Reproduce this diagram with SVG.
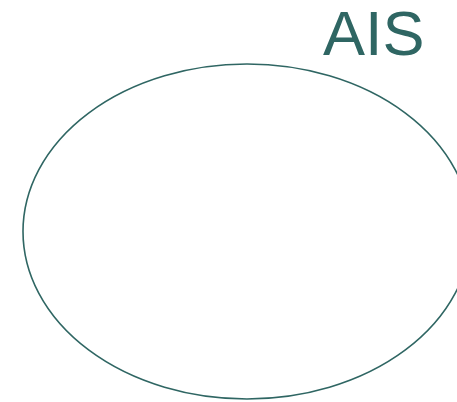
<svg xmlns="http://www.w3.org/2000/svg" width="457" height="402" viewBox="0 0 457 402">
<style>
.n{fill:none;stroke:#2f6663;stroke-width:1.6}
.t{font-family:"Liberation Sans",Arial,sans-serif;fill:#2f6663}
</style>
<rect width="457" height="402" fill="#ffffff"/>
<g id="ais">
<ellipse class="n" cx="247" cy="231.5" rx="224" ry="167.5"/>
<text class="t" x="323" y="55" font-size="63">AIS</text>
</g>
</svg>
